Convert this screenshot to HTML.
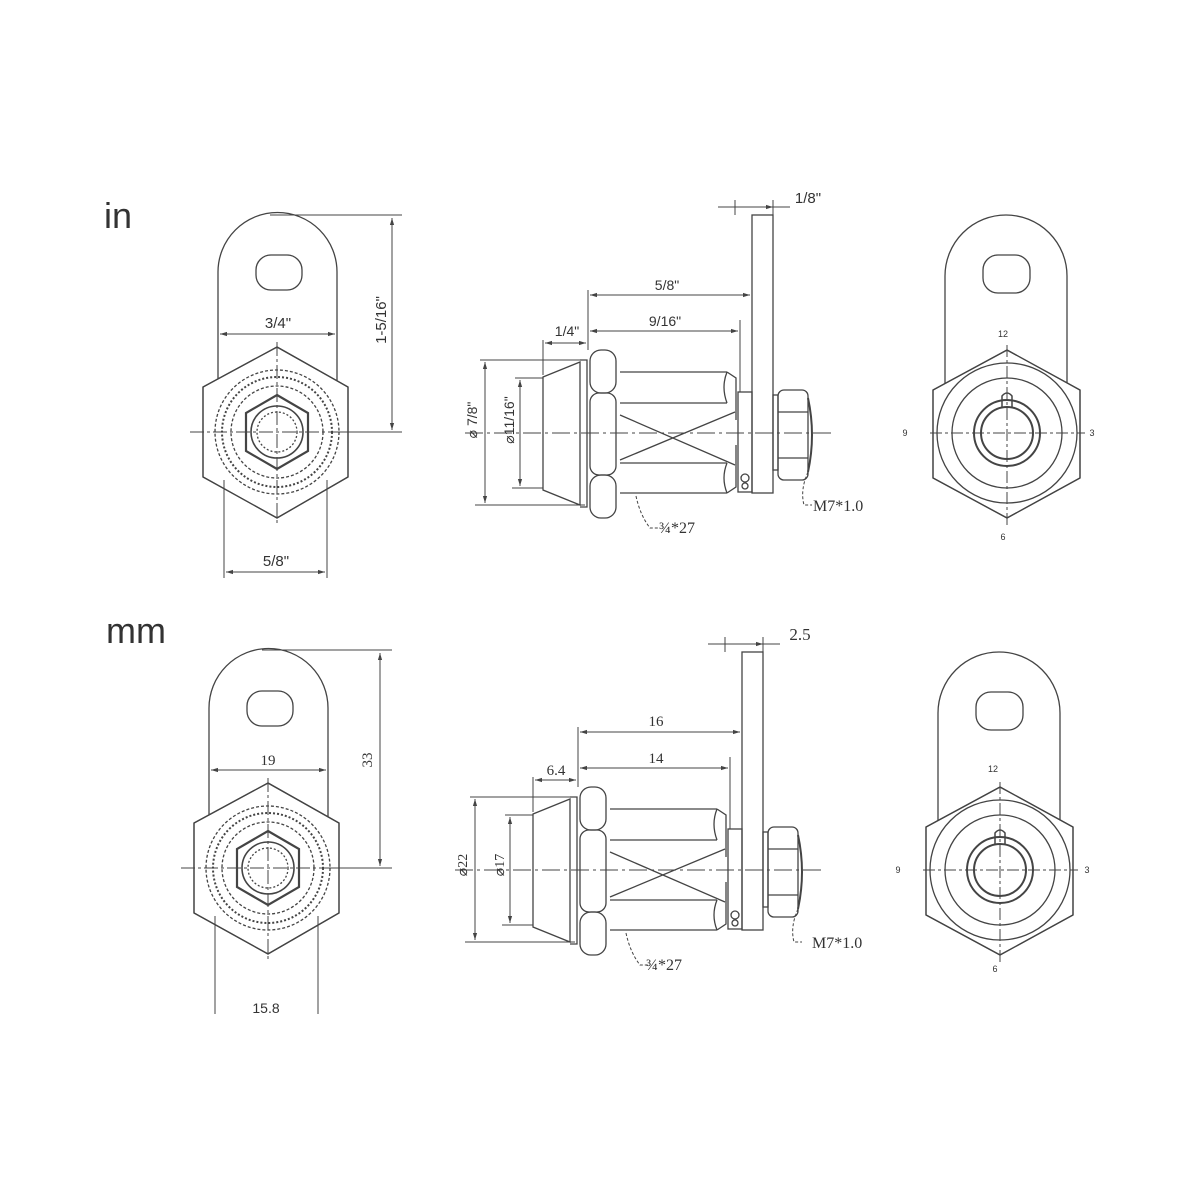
<!DOCTYPE html>
<html><head><meta charset="utf-8"><style>
html,body{margin:0;padding:0;background:#fff;}
svg{display:block;}
text{font-family:"Liberation Sans",sans-serif;fill:#333;}
.s{font-family:"Liberation Serif",serif;}
</style></head><body>
<svg width="1200" height="1200" viewBox="0 0 1200 1200" xmlns="http://www.w3.org/2000/svg">
<defs>
<marker id="a" viewBox="0 0 10 10" refX="10" refY="5" markerWidth="7" markerHeight="7" orient="auto-start-reverse"><path d="M0,2 L10,5 L0,8" fill="#444"/></marker>
<g id="front" fill="none" stroke="#444" stroke-width="1.3">
  <path d="M218,432 V272 A59.5,59.5 0 0 1 337,272 V432"/>
  <rect x="256" y="255" width="46" height="35" rx="15"/>
  <path d="M277,347 L348,387 V477 L277,518 L203,477 V387 Z" fill="#fff"/>
  <path d="M277,347 L348,387 V477 L277,518 L203,477 V387 Z"/>
  <circle cx="277" cy="432" r="62" stroke-dasharray="3,2"/>
  <circle cx="277" cy="432" r="55" stroke-dasharray="2,2" stroke-width="2"/>
  <circle cx="277" cy="432" r="46" stroke-dasharray="3,2"/>
  <path d="M277,395 L308,413 V451 L277,469 L246,451 V413 Z" stroke-width="2.2"/>
  <circle cx="277" cy="432" r="26" stroke-width="1.6"/>
  <circle cx="277" cy="432" r="20" stroke-dasharray="2,2"/>
  <path d="M190,432 H400 M277,342 V525" stroke-dasharray="14,3,3,3" stroke-width="1"/>
  <path d="M224,480 V578 M327,480 V578" stroke-width="1"/>
</g>
<g id="side" fill="none" stroke="#444" stroke-width="1.3">
  <rect x="752" y="215" width="21" height="278"/>
  <path d="M543,377 L580,362 V505 L543,490 Z"/>
  <path d="M580,360 H587 V507 H580"/>
  <rect x="590" y="350" width="26" height="43" rx="11"/>
  <rect x="590" y="393" width="26" height="82" rx="9"/>
  <rect x="590" y="475" width="26" height="43" rx="11"/>
  <path d="M620,372 H727 M620,403 H727 M620,463 H727 M620,493 H727"/>
  <path d="M727,372 Q721,387 727,403 M727,463 Q721,478 727,493 M727,372 L736,378 V420 M727,493 L736,487 V445"/>
  <path d="M620,415 L735,465 M620,460 L735,412"/>
  <rect x="738" y="392" width="14" height="100"/>
  <circle cx="745" cy="478" r="4"/><circle cx="745" cy="486" r="3"/>
  <rect x="773" y="395" width="5" height="75"/>
  <rect x="778" y="390" width="30" height="90" rx="6"/>
  <path d="M778,412 H808 M778,458 H808"/>
  <path d="M808,398 Q816,435 808,472" stroke-width="2"/>
  <path d="M465,433 H835" stroke-dasharray="18,4,3,4" stroke-width="1"/>
  <path d="M480,360 H580 M475,505 H585 M515,378 H543 M512,488 H543" stroke-width="1"/>
  <path d="M588,290 V350 M543,340 V375 M740,320 V392 M735,200 V215 M773,200 V215" stroke-width="1"/>
  <path d="M485,362 V503" marker-start="url(#a)" marker-end="url(#a)" stroke-width="1"/>
  <path d="M520,380 V486" marker-start="url(#a)" marker-end="url(#a)" stroke-width="1"/>
  <path d="M590,295 H750" marker-start="url(#a)" marker-end="url(#a)" stroke-width="1"/>
  <path d="M590,331 H738" marker-start="url(#a)" marker-end="url(#a)" stroke-width="1"/>
  <path d="M545,343 H586" marker-start="url(#a)" marker-end="url(#a)" stroke-width="1"/>
  <path d="M718,207 H735 M790,207 H773 M735,207 H773" marker-end="url(#a)" stroke-width="1"/>
  <path d="M636,496 Q640,515 650,528 H658" stroke-dasharray="3,2" stroke-width="1"/>
  <path d="M808,472 Q800,490 804,505 H812" stroke-dasharray="3,2" stroke-width="1"/>
</g>
<g id="clock" fill="none" stroke="#444" stroke-width="1.3">
  <path d="M945,433 V276 A61,61 0 0 1 1067,276 V433"/>
  <rect x="983" y="255" width="47" height="38" rx="15"/>
  <path d="M1007,350 L1080,390 V478 L1007,518 L933,478 V390 Z" fill="#fff"/>
  <path d="M1007,350 L1080,390 V478 L1007,518 L933,478 V390 Z"/>
  <circle cx="1007" cy="433" r="70"/>
  <circle cx="1007" cy="433" r="55"/>
  <circle cx="1007" cy="433" r="33" stroke-width="2"/>
  <circle cx="1007" cy="433" r="26" stroke-width="2"/>
  <path d="M1002,408 V396 Q1007,390 1012,396 V408" stroke-width="1.5"/>
  <path d="M930,433 H1085 M1007,345 V525" stroke-dasharray="12,3,3,3" stroke-width="1"/>
</g>
</defs>

<text x="104" y="228" font-size="36">in</text>
<text x="106" y="643" font-size="36">mm</text>

<use href="#front"/>
<g fill="none" stroke="#444" stroke-width="1">
  <path d="M220,334 H335" marker-start="url(#a)" marker-end="url(#a)"/>
  <path d="M226,572 H325" marker-start="url(#a)" marker-end="url(#a)"/>
  <path d="M270,215 H402 M340,432 H402"/>
  <path d="M392,218 V430" marker-start="url(#a)" marker-end="url(#a)"/>
</g>
<text x="278" y="328" font-size="15" text-anchor="middle">3/4"</text>
<text x="276" y="566" font-size="15" text-anchor="middle">5/8"</text>
<text x="0" y="0" font-size="15" text-anchor="middle" transform="translate(386,320) rotate(-90)">1-5/16"</text>

<use href="#side"/>
<text x="808" y="203" font-size="15" text-anchor="middle">1/8"</text>
<text x="667" y="290" font-size="14" text-anchor="middle">5/8"</text>
<text x="665" y="326" font-size="14" text-anchor="middle">9/16"</text>
<text x="567" y="336" font-size="14" text-anchor="middle">1/4"</text>
<text x="0" y="0" font-size="14" text-anchor="middle" transform="translate(477,420) rotate(-90)">⌀ 7/8"</text>
<text x="0" y="0" font-size="14" text-anchor="middle" transform="translate(514,420) rotate(-90)">⌀11/16"</text>
<text x="659" y="533" font-size="16" class="s">¾*27</text>
<text x="813" y="511" font-size="16" class="s">M7*1.0</text>

<use href="#clock"/>
<g font-size="9" class="s" text-anchor="middle">
<text x="1003" y="337">12</text><text x="905" y="436">9</text><text x="1092" y="436">3</text><text x="1003" y="540">6</text>
</g>

<g transform="translate(-9,436)"><use href="#front"/></g>
<g fill="none" stroke="#444" stroke-width="1">
  <path d="M211,770 H326" marker-start="url(#a)" marker-end="url(#a)"/>
  <path d="M262,650 H392 M332,868 H392"/>
  <path d="M380,653 V866" marker-start="url(#a)" marker-end="url(#a)"/>
</g>
<text x="268" y="765" font-size="15" text-anchor="middle" class="s">19</text>
<text x="266" y="1013" font-size="14" text-anchor="middle">15.8</text>
<text x="0" y="0" font-size="15" text-anchor="middle" transform="translate(372,760) rotate(-90)" class="s">33</text>

<g transform="translate(-10,437)"><use href="#side"/></g>
<text x="800" y="640" font-size="17" text-anchor="middle" class="s">2.5</text>
<text x="656" y="726" font-size="15" text-anchor="middle" class="s">16</text>
<text x="656" y="763" font-size="15" text-anchor="middle" class="s">14</text>
<text x="556" y="775" font-size="15" text-anchor="middle" class="s">6.4</text>
<text x="0" y="0" font-size="14" text-anchor="middle" transform="translate(467,865) rotate(-90)" class="s">⌀22</text>
<text x="0" y="0" font-size="14" text-anchor="middle" transform="translate(504,865) rotate(-90)" class="s">⌀17</text>
<text x="646" y="970" font-size="16" class="s">¾*27</text>
<text x="812" y="948" font-size="16" class="s">M7*1.0</text>

<g transform="translate(-7,437)"><use href="#clock"/></g>
<g font-size="9" class="s" text-anchor="middle">
<text x="993" y="772">12</text><text x="898" y="873">9</text><text x="1087" y="873">3</text><text x="995" y="972">6</text>
</g>
</svg>
</body></html>
